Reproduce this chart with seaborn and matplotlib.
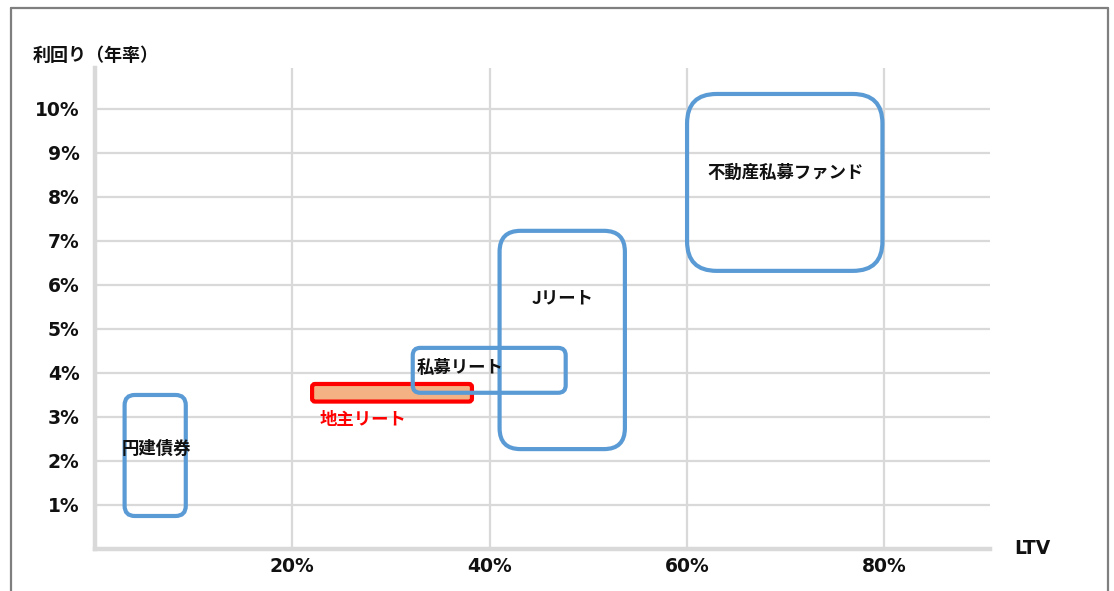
import matplotlib
matplotlib.use("Agg")
import matplotlib.pyplot as plt
import seaborn as sns
import numpy as np
from matplotlib.patches import FancyBboxPatch
from matplotlib.lines import Line2D

# ---- data ----
names = ["円建債券", "地主リート", "私募リート", "Jリート", "不動産私募ファンド"]
ltv_low = [3.0, 22.0, 32.2, 41.0, 60.0]
ltv_high = [9.2, 38.2, 47.7, 53.7, 79.8]
yield_low = [0.75, 3.35, 3.55, 2.27, 6.32]
yield_high = [3.5, 3.75, 4.57, 7.23, 10.34]
label_x = [6.2, 27.2, 37.0, 47.4, 70.0]
label_y = [2.27, 2.93, 4.11, 5.70, 8.55]
x_ticks = [20, 40, 60, 80]
y_ticks = [1, 2, 3, 4, 5, 6, 7, 8, 9, 10]

sns.set_theme(style="white")
plt.rcParams['font.family'] = ['Noto Sans CJK JP', 'DejaVu Sans']

fig = plt.figure(figsize=(11.14, 5.91), dpi=100)
ax = fig.add_axes([95/1114, 1-549/591, (990-95)/1114, (549-68)/591])
ax.set_xlim(0, 90.7)
ax.set_ylim(0, 10.93)

grid_c = "#d9d9d9"
tick_font = dict(family="DejaVu Sans", fontweight="bold", fontsize=13.5)
ax.set_xticks(x_ticks)
ax.set_yticks(y_ticks)
ax.set_xticklabels([f"{v}%" for v in x_ticks], **tick_font)
ax.set_yticklabels([f"{v}%" for v in y_ticks], **tick_font)
ax.tick_params(axis="x", length=0, pad=6, colors="#111111")
ax.tick_params(axis="y", length=0, pad=11, colors="#111111")
ax.grid(True, color=grid_c, linewidth=1.6)
ax.set_axisbelow(True)
sns.despine(ax=ax, top=True, right=True)
for s in ["left", "bottom"]:
    ax.spines[s].set_color(grid_c)
    ax.spines[s].set_linewidth(3.2)

# pixel scale for circular corners
fig.canvas.draw()
p0 = ax.transData.transform((0, 0))
p1 = ax.transData.transform((1, 1))
px_x = p1[0] - p0[0]
px_y = p1[1] - p0[1]
aspect = px_x / px_y

blue = "#5B9BD5"
for i, n in enumerate(names):
    w = ltv_high[i] - ltv_low[i]
    h = yield_high[i] - yield_low[i]
    r_px = 0.167 * min(w * px_x, h * px_y)
    r = r_px / px_x
    if n == "地主リート":
        ec, fc, z = "#FF0000", "#F4B183", 3
    else:
        ec, fc, z = blue, "none", 4
    patch = FancyBboxPatch((ltv_low[i], yield_low[i]), w, h,
                           boxstyle=f"round,pad=0,rounding_size={r}",
                           mutation_aspect=aspect,
                           linewidth=3.0, edgecolor=ec, facecolor=fc, zorder=z)
    ax.add_patch(patch)
    ax.text(label_x[i], label_y[i], n, ha="center", va="center",
            fontsize=12.5, fontweight="bold",
            color="#FF0000" if n == "地主リート" else "#111111", zorder=6)

ax.text(95.0, 0.0, "LTV", ha="center", va="center", family="DejaVu Sans",
        fontweight="bold", fontsize=13.5, color="#111111", clip_on=False)
fig.text(33/1114, 1-55/591, "利回り（年率）", ha="left", va="center",
         fontsize=13, fontweight="bold", color="#111111")

# outer frame (left, top, right)
fc_ = "#7f7f7f"
fx0, fx1, fy = 10.5/1114, 1108/1114, 1-8/591
fig.add_artist(Line2D([fx0, fx0], [0, fy], color=fc_, linewidth=1.6, transform=fig.transFigure))
fig.add_artist(Line2D([fx0, fx1], [fy, fy], color=fc_, linewidth=1.6, transform=fig.transFigure))
fig.add_artist(Line2D([fx1, fx1], [0, fy], color=fc_, linewidth=1.6, transform=fig.transFigure))

fig.savefig("out.png", dpi=100, facecolor="white")
